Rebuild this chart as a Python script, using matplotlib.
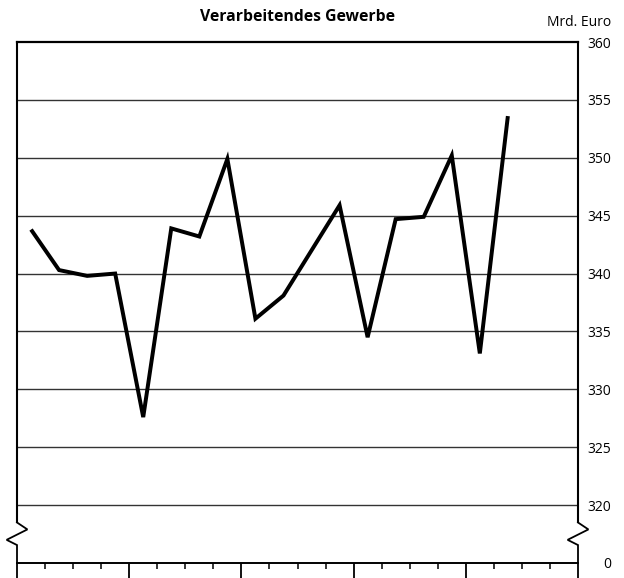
import matplotlib
matplotlib.use('Agg')
import matplotlib.pyplot as plt

plt.rcParams['font.family'] = ['Open Sans', 'DejaVu Sans']

# monthly values, Mrd. Euro
months = list(range(18))
values = [343.8, 340.3, 339.8, 340.0, 327.6, 343.9, 343.2, 349.9, 336.1,
          338.1, 342.0, 345.9, 334.5, 344.7, 344.9, 350.2, 333.1, 353.6]

y_ticks = [315, 320, 325, 330, 335, 340, 345, 350, 355, 360]
y_labels = ['0', '320', '325', '330', '335', '340', '345', '350', '355', '360']
grid_levels = [320, 325, 330, 335, 340, 345, 350, 355]

x_lo, x_hi = -0.5, 19.5
y_lo, y_hi = 315, 360
brk_top, brk_bot = 318.5, 316.55

fig = plt.figure(figsize=(6.24, 5.78), dpi=100)
ax = fig.add_axes([17 / 624, 15 / 578, 561 / 624, 521 / 578])
ax.set_xlim(x_lo, x_hi)
ax.set_ylim(y_lo, y_hi)

for g in grid_levels:
    ax.axhline(g, color='#333333', lw=1.0, zorder=1)

ax.plot(months, values, color='black', lw=2.85, solid_joinstyle='miter',
        solid_capstyle='butt', zorder=3)

# spines with axis break
for side in ['left', 'right']:
    ax.spines[side].set_bounds(brk_top, y_hi)
    ax.spines[side].set_linewidth(1.5)
ax.spines['top'].set_linewidth(1.6)
ax.spines['bottom'].set_linewidth(1.4)

dx = 0.37
for x0 in [x_lo, x_hi]:
    ax.plot([x0, x0 + dx, x0 - dx, x0, x0],
            [brk_top, 317.9, 317.0, brk_bot, y_lo],
            color='black', lw=1.3, clip_on=False, solid_joinstyle='miter', zorder=4)

# y axis on the right, labels right-aligned
ax.yaxis.tick_right()
ax.set_yticks(y_ticks)
ax.set_yticklabels(y_labels, fontsize=10, ha='right')
ax.tick_params(axis='y', length=0, pad=24)

# x ticks below the zero line, no labels
ax.set_xticks([x_lo + 4 * i for i in range(6)])
ax.set_xticks([x_lo + i for i in range(21)], minor=True)
ax.tick_params(axis='x', which='major', length=11, width=1.3, direction='out',
               labelbottom=False)
ax.tick_params(axis='x', which='minor', length=4.5, width=1.1, direction='out')

fig.text(0.5 * (17 + 578) / 624, 1 - 17 / 578, 'Verarbeitendes Gewerbe',
         ha='center', va='center', fontsize=11.3, fontweight='bold')
fig.text(611 / 624, 1 - 23 / 578, 'Mrd. Euro', ha='right', va='center', fontsize=10)

fig.savefig('out.png', dpi=100)
